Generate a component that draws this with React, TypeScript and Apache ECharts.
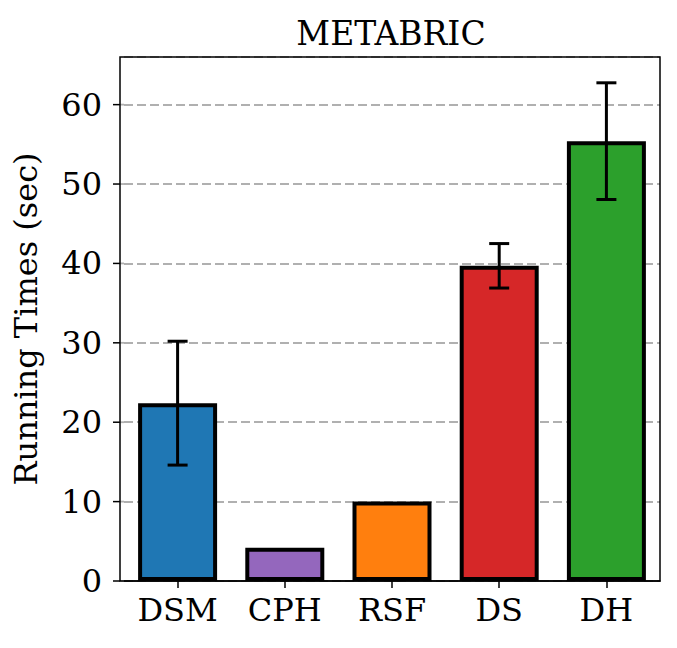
import React, { useEffect, useRef } from "react";
import * as echarts from "echarts";

const categories = ["DSM", "CPH", "RSF", "DS", "DH"];
const means = [22.4, 4.2, 10.0, 39.7, 55.4];
const errors = [7.8, 0, 0, 2.8, 7.35];
const colors = ["#1f77b4", "#9467bd", "#ff7f0e", "#d62728", "#2ca02c"];
const yTicks = [0, 10, 20, 30, 40, 50, 60];
const yMax = 66;
const title = "METABRIC";
const yLabel = "Running Times (sec)";

const FONT = "DejaVu Serif";

export default function App() {
  const ref = useRef<HTMLDivElement>(null);
  useEffect(() => {
    if (!ref.current) return;
    const chart = echarts.init(ref.current, undefined, { renderer: "svg" });
    const gridLeft = 124;
    const gridTop = 57;
    const gridRight = 17;
    const gridBottom = 67;
    chart.setOption({
      animation: false,
      backgroundColor: "#ffffff",
      title: {
        text: title,
        left: 386,
        textAlign: "center",
        top: 12,
        textStyle: { fontFamily: FONT, fontSize: 33, fontWeight: "normal", color: "#000" },
      },
      grid: { left: gridLeft, top: gridTop, right: gridRight, bottom: gridBottom },
      xAxis: {
        type: "category",
        data: categories,
        axisLine: { show: true, lineStyle: { color: "#000", width: 1.5 } },
        axisTick: { show: true, alignWithLabel: true, length: 7, lineStyle: { color: "#000", width: 1.5 } },
        axisLabel: { fontFamily: FONT, fontSize: 32, color: "#000", margin: 13 },
      },
      yAxis: {
        type: "value",
        min: 0,
        max: yMax,
        interval: 10,
        name: yLabel,
        nameLocation: "middle",
        nameGap: 82,
        nameTextStyle: { fontFamily: FONT, fontSize: 32, color: "#000" },
        axisLine: { show: false },
        axisTick: { show: false },
        axisLabel: {
          fontFamily: FONT,
          fontSize: 32,
          color: "#000",
          margin: 22,
          formatter: (v: number) => (yTicks.indexOf(v) >= 0 ? String(v) : ""),
        },
        splitLine: { show: true, lineStyle: { color: "#b0b0b0", width: 1.8, type: [9, 4] } },
      },
      graphic: [
        {
          type: "rect",
          shape: { x: 120, y: gridTop, width: 540, height: 648 - gridTop - gridBottom },
          style: { fill: "none", stroke: "#000", lineWidth: 1.5 },
          z: 100,
        },
      ],
      series: [
        {
          type: "bar",
          barWidth: 79,
          data: means.map((v, i) => ({
            value: v,
            itemStyle: { color: colors[i], borderColor: "#000", borderWidth: 4 },
          })),
          z: 2,
        },
        {
          type: "custom",
          z: 5,
          data: means.map((m, i) => [i, m - errors[i], m + errors[i], errors[i]]),
          renderItem: (params: any, api: any) => {
            if (api.value(3) === 0) return null;
            const x = api.value(0);
            const lo = api.coord([x, api.value(1)]);
            const hi = api.coord([x, api.value(2)]);
            const cap = 10;
            const style = { stroke: "#000", lineWidth: 3 };
            return {
              type: "group",
              children: [
                { type: "line", shape: { x1: lo[0], y1: lo[1], x2: hi[0], y2: hi[1] }, style },
                { type: "line", shape: { x1: lo[0] - cap, y1: lo[1], x2: lo[0] + cap, y2: lo[1] }, style },
                { type: "line", shape: { x1: hi[0] - cap, y1: hi[1], x2: hi[0] + cap, y2: hi[1] }, style },
              ],
            };
          },
        },
        {
          type: "custom",
          z: 6,
          silent: true,
          data: yTicks.map((t) => [0, t]),
          renderItem: (params: any, api: any) => {
            const p = api.coord([0, api.value(1)]);
            return {
              type: "group",
              children: [
                {
                  type: "line",
                  shape: { x1: 113, y1: p[1], x2: 120, y2: p[1] },
                  style: { stroke: "#000", lineWidth: 1.5 },
                },
                {
                  type: "line",
                  shape: { x1: 120, y1: p[1], x2: gridLeft, y2: p[1] },
                  style: { stroke: "#b0b0b0", lineWidth: 1.8 },
                },
              ],
            };
          },
        },
      ],
    });
    return () => chart.dispose();
  }, []);
  return <div ref={ref} style={{ width: 677, height: 648, position: "absolute", left: 0, top: 0 }} />;
}
